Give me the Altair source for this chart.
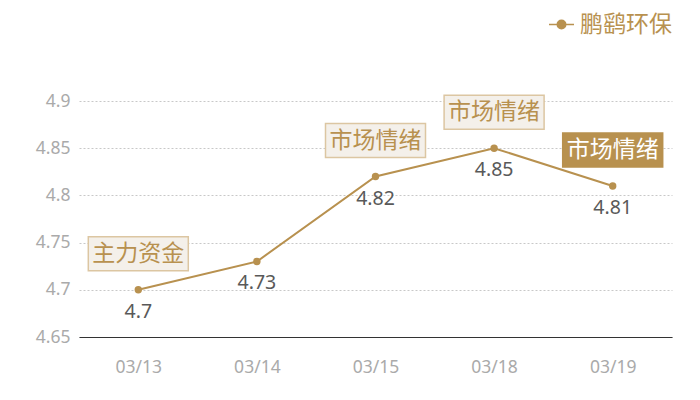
import altair as alt
import pandas as pd

dates = ["03/13", "03/14", "03/15", "03/18", "03/19"]
values = [4.70, 4.73, 4.82, 4.85, 4.81]
tags = ["主力资金", "", "市场情绪", "市场情绪", "市场情绪"]
highlight = [False, False, False, False, True]
series_name = "鹏鹞环保"
y_ticks = [4.65, 4.7, 4.75, 4.8, 4.85, 4.9]

GOLD = "#b8914f"

df = pd.DataFrame({
    "date": dates,
    "value": values,
    "tag": tags,
    "hl": highlight,
    "series": [series_name] * len(dates),
})

x_enc = alt.X("date:N", sort=None, title=None,
              axis=alt.Axis(labelAngle=0, ticks=False, domain=True, domainColor="#333333",
                            domainWidth=1.2, labelColor="#aaaaaa", labelFontSize=17.5,
                            labelFont="Noto Sans", labelPadding=21, grid=False))
y_enc = alt.Y("value:Q", title=None,
              scale=alt.Scale(domain=[4.65, 4.9], nice=False, zero=False),
              axis=alt.Axis(values=y_ticks, labelExpr="format(datum.value, '.3~g')",
                            ticks=False, domain=False, grid=True, gridDash=[2, 2],
                            gridColor="#c8c8c8", labelColor="#aaaaaa", labelFontSize=17.5,
                            labelFont="Noto Sans", labelPadding=9))

base = alt.Chart(df).encode(x=x_enc, y=y_enc)

legend_symbol = "M-1,0L1,0M0.34,0A0.34,0.34,0,1,1,-0.34,0A0.34,0.34,0,1,1,0.34,0Z"

line = base.mark_line(strokeWidth=2).encode(
    color=alt.Color("series:N", title=None,
                    scale=alt.Scale(range=[GOLD]),
                    legend=alt.Legend(orient="none", legendX=469, legendY=-90,
                                      symbolType=legend_symbol, symbolSize=625,
                                      symbolStrokeWidth=1.5, symbolFillColor=GOLD,
                                      symbolStrokeColor=GOLD, labelLimit=300,
                                      labelColor=GOLD, labelFontSize=23,
                                      labelFont="Noto Sans CJK SC", labelOffset=5))
)
points = base.mark_circle(size=55, opacity=1, color=GOLD)
value_labels = base.mark_text(dy=22, fontSize=19.5, color="#595959", font="Noto Sans").encode(
    text=alt.Text("value:Q", format=".3~g"))

box_path = "M-1,-0.34L1,-0.34L1,0.34L-1,0.34Z"
tagged = base.transform_filter("datum.tag != ''")
boxes = tagged.mark_point(shape=box_path, size=10000, filled=True, yOffset=-36,
                          strokeWidth=1.5, opacity=1).encode(
    fill=alt.condition("datum.hl", alt.value(GOLD), alt.value("#f4f0ea")),
    stroke=alt.condition("datum.hl", alt.value(GOLD), alt.value("#dcc6a2")),
)
tag_text = tagged.mark_text(dy=-36, fontSize=23, font="Noto Sans CJK SC").encode(
    text="tag:N",
    color=alt.condition("datum.hl", alt.value("#ffffff"), alt.value(GOLD)),
)

chart = alt.layer(line, points, value_labels, boxes, tag_text).properties(
    width=593, height=236,
    padding={"left": 71, "top": 93, "right": 20, "bottom": 40},
    autosize=alt.AutoSizeParams(type="none"),
    background="white",
).configure_view(stroke=None)

chart.save("out.html", embed_options={"renderer": "svg", "actions": False})
